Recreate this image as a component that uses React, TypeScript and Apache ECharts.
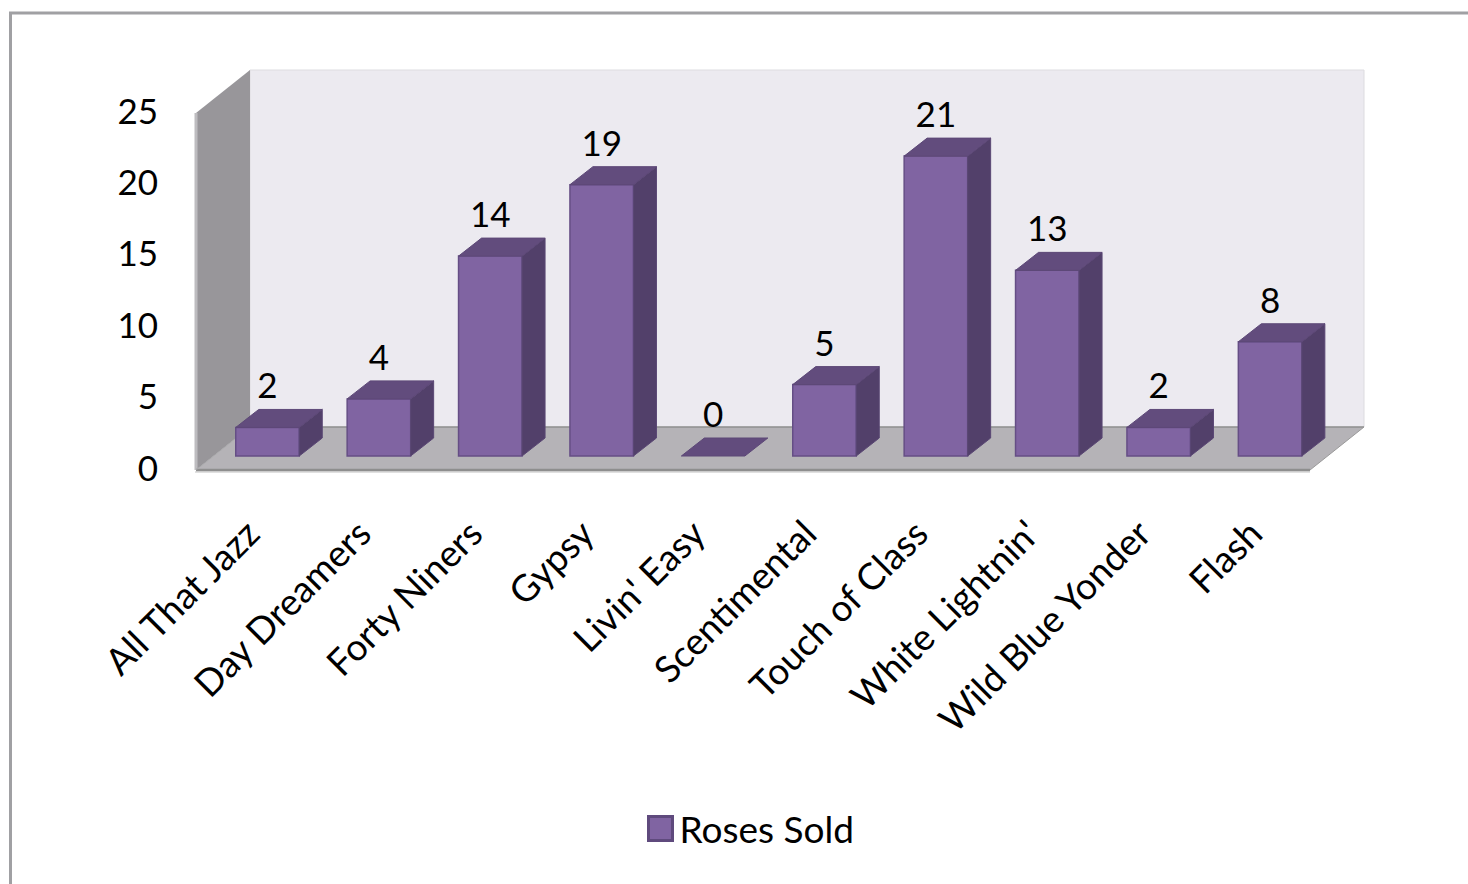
import React, { useEffect, useRef } from "react";
import * as echarts from "echarts";

const categories = ["All That Jazz", "Day Dreamers", "Forty Niners", "Gypsy", "Livin' Easy", "Scentimental", "Touch of Class", "White Lightnin'", "Wild Blue Yonder", "Flash"];
const rosesSold = [2, 4, 14, 19, 0, 5, 21, 13, 2, 8];
const yTicks = { min: 0, max: 25, interval: 5 };
const seriesName = "Roses Sold";
const FONT = "Lato, Carlito, sans-serif";

const WALL_DX = 54;
const WALL_DY = -43;
const BAR_OFFSET_X = 15.8;
const BAR_OFFSET_Y = -14;
const BAR_W = 63.5;
const BAR_DX = 23;
const BAR_DY = -18;

function renderWalls(params: any) {
  const { x, y, width: w, height: h } = params.coordSys;
  const b = y + h;
  const r = x + w;
  return {
    type: "group",
    silent: true,
    children: [
      { type: "rect", shape: { x: x + WALL_DX, y: y + WALL_DY, width: w, height: h }, style: { fill: "#ECEAF0", stroke: "#DDDCE0", lineWidth: 1 } },
      { type: "polygon", shape: { points: [[x, y], [x + WALL_DX, y + WALL_DY], [x + WALL_DX, b + WALL_DY], [x, b]] }, style: { fill: "#98969A" } },
      { type: "line", shape: { x1: x, y1: y, x2: x, y2: b }, style: { stroke: "#BDBCBF", lineWidth: 3 } },
      { type: "rect", shape: { x: x - 1, y: b + 1, width: w + 1, height: 2 }, style: { fill: "#E0E0E0" } },
      { type: "polygon", shape: { points: [[x, b], [x + WALL_DX, b + WALL_DY], [r + WALL_DX, b + WALL_DY], [r, b]] }, style: { fill: "#B5B3B7" } },
      { type: "line", shape: { x1: x + WALL_DX, y1: b + WALL_DY, x2: r + WALL_DX, y2: b + WALL_DY }, style: { stroke: "#8F8F8F", lineWidth: 1.5 } },
      { type: "line", shape: { x1: r + WALL_DX, y1: b + WALL_DY, x2: r, y2: b }, style: { stroke: "#9A9A9A", lineWidth: 1 } },
      { type: "line", shape: { x1: x, y1: b, x2: r, y2: b }, style: { stroke: "#8E8E8E", lineWidth: 2.5 } },
      { type: "line", shape: { x1: x, y1: b, x2: x + WALL_DX, y2: b + WALL_DY }, style: { stroke: "#A8A8AA", lineWidth: 1 } },
    ],
  };
}

function renderBar(_params: any, api: any) {
  const value = api.value(1);
  const [cx, vy] = api.coord([api.value(0), value]);
  const [, by] = api.coord([api.value(0), 0]);
  const left = cx + BAR_OFFSET_X - BAR_W / 2;
  const right = left + BAR_W;
  const top = vy + BAR_OFFSET_Y;
  const bottom = by + BAR_OFFSET_Y;
  const children: any[] = [];
  if (value > 0) {
    children.push({
      type: "rect",
      shape: { x: left, y: top, width: BAR_W, height: bottom - top },
      style: { fill: "#8064A2", stroke: "#654E85", lineWidth: 1.5 },
    });
    children.push({
      type: "polygon",
      shape: { points: [[right, top], [right + BAR_DX, top + BAR_DY], [right + BAR_DX, bottom + BAR_DY], [right, bottom]] },
      style: { fill: "#52406A", stroke: "#5A4774", lineWidth: 1, lineJoin: "round" },
    });
  }
  children.push({
    type: "polygon",
    shape: { points: [[left, top], [left + BAR_DX, top + BAR_DY], [right + BAR_DX, top + BAR_DY], [right, top]] },
    style: { fill: "#624C7D", stroke: "#5D4877", lineWidth: 1, lineJoin: "round" },
  });
  children.push({
    type: "text",
    style: {
      text: String(value),
      x: cx + BAR_OFFSET_X,
      y: top - 43,
      fill: "#000",
      font: `35px ${FONT}`,
      align: "center",
      verticalAlign: "middle",
    },
  });
  return { type: "group", children };
}

export default function App() {
  const ref = useRef<HTMLDivElement>(null);
  useEffect(() => {
    const chart = echarts.init(ref.current!, undefined, { renderer: "svg" });
    chart.setOption({
      animation: false,
      backgroundColor: "#fff",
      grid: { left: 196, top: 113, width: 1114, height: 357, containLabel: false },
      graphic: [
        {
          type: "polyline",
          silent: true,
          shape: { points: [[10.5, 884], [10.5, 13], [1468, 13]] },
          style: { stroke: "#A0A0A3", lineWidth: 3, fill: "none" },
        },
      ],
      legend: {
        show: true,
        left: 647,
        top: 810,
        padding: 0,
        itemWidth: 24,
        itemHeight: 24,
        itemGap: 8,
        data: [{ name: seriesName, icon: "rect" }],
        itemStyle: { color: "#8064A2", borderColor: "#5F4A7D", borderWidth: 3 },
        textStyle: { fontFamily: FONT, fontSize: 37, color: "#000", padding: [0, 0, 0, 2] },
      },
      xAxis: {
        type: "category",
        data: categories,
        axisLine: { show: false },
        axisTick: { show: false },
        axisLabel: { rotate: 45, interval: 0, fontFamily: FONT, fontSize: 37, color: "#000", margin: 56 },
      },
      yAxis: {
        type: "value",
        min: yTicks.min,
        max: yTicks.max,
        interval: yTicks.interval,
        axisLine: { show: false },
        axisTick: { show: false },
        splitLine: { show: false },
        axisLabel: { fontFamily: FONT, fontSize: 35, color: "#000", margin: 38, verticalAlign: "bottom", lineHeight: 7 },
      },
      series: [
        { type: "custom", silent: true, z: 1, data: [[0, 0]], encode: { x: 0, y: 1 }, renderItem: renderWalls, legendHoverLink: false },
        {
          type: "custom",
          name: seriesName,
          z: 2,
          data: rosesSold.map((v, i) => [i, v]),
          encode: { x: 0, y: 1 },
          itemStyle: { color: "#8064A2", borderColor: "#5F4A7D", borderWidth: 3 },
          renderItem: renderBar,
        },
      ],
    });
    return () => chart.dispose();
  }, []);
  return <div ref={ref} style={{ position: "absolute", left: 0, top: 0, width: 1468, height: 884 }} />;
}
